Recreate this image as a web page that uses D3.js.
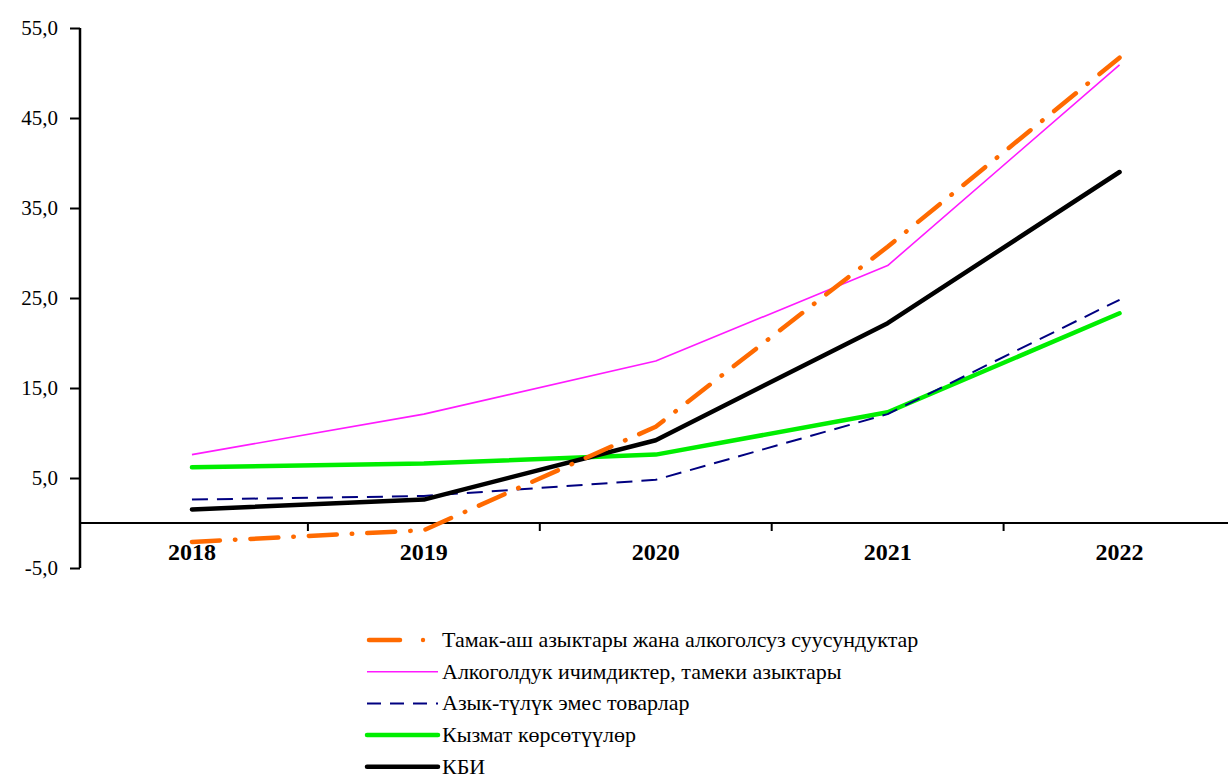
<!DOCTYPE html>
<html><head><meta charset="utf-8">
<script src="https://cdn.jsdelivr.net/npm/d3@7"></script>
<style>body{margin:0;background:#fff}svg{display:block}</style>
</head><body><svg id="c" width="1228" height="778" font-family="Liberation Serif"></svg>
<script>
const years = ["2018","2019","2020","2021","2022"];
const yTicks = [-5,5,15,25,35,45,55];
const food = [-2.1,-0.8,10.7,30.7,51.7];
const alcohol = [7.6,12.1,18.0,28.6,50.9];
const nonFood = [2.6,3.0,4.8,12.1,24.8];
const services = [6.2,6.6,7.6,12.3,23.3];
const cpi = [1.5,2.6,9.2,22.2,39.0];
const seriesNames = ["Тамак-аш азыктары жана алкоголсуз суусундуктар","Алкоголдук ичимдиктер, тамеки азыктары","Азык-түлүк эмес товарлар","Кызмат көрсөтүүлөр","КБИ"];

const FONT = "Liberation Serif";
const series = [
 {name:seriesNames[0], values:food, color:"#ff6a00", width:4.5, dash:"28,15,0.5,15", cap:"round"},
 {name:seriesNames[1], values:alcohol, color:"#ff1aff", width:1.6, dash:null, cap:"butt"},
 {name:seriesNames[2], values:nonFood, color:"#000080", width:2, dash:"16,9", cap:"butt"},
 {name:seriesNames[3], values:services, color:"#00ee00", width:4.5, dash:null, cap:"round"},
 {name:seriesNames[4], values:cpi, color:"#000000", width:4.5, dash:null, cap:"round"}
];
const svg = d3.select("#c");
const x = d3.scaleBand().domain(years).range([76,1235.5]);
const y = d3.scaleLinear().domain([-5,55]).range([568,28]);
const axisX = 80;

// y axis
const ya = svg.append("g").attr("transform",`translate(${axisX},0)`)
  .call(d3.axisLeft(y).tickValues(yTicks).tickSize(10).tickFormat(d=>d.toFixed(1).replace(".",",")));
ya.attr("font-family",null).attr("font-size",null);
ya.select(".domain").attr("stroke","#000").attr("stroke-width",2.5).attr("d",`M0,${y(55)}V${y(-5)}`);
ya.selectAll(".tick line").attr("stroke","#000").attr("stroke-width",2);
ya.selectAll(".tick text").attr("font-size",21).attr("fill","#000").attr("x",-22).attr("font-family",FONT);

// x axis at zero
const xg = svg.append("g").attr("transform",`translate(0,${y(0)})`);
xg.append("line").attr("x1",axisX).attr("x2",1228).attr("stroke","#000").attr("stroke-width",2);
const bounds = years.slice(1).map(d=>x(d));
xg.selectAll("line.t").data(bounds).join("line").attr("class","t")
  .attr("x1",d=>d).attr("x2",d=>d).attr("y1",0).attr("y2",8).attr("stroke","#000").attr("stroke-width",2);
xg.selectAll("text.yr").data(years).join("text").attr("class","yr")
  .attr("x",d=>x(d)+x.bandwidth()/2).attr("y",37).attr("text-anchor","middle").attr("font-family",FONT)
  .attr("font-size",24).attr("font-weight","bold").attr("fill","#000").text(d=>d);

// lines
const line = d3.line().x((d,i)=>x(years[i])+x.bandwidth()/2).y(d=>y(d));
const order = [3,2,1,4,0];
order.forEach(k=>{
  const s = series[k];
  svg.append("path").attr("d",line(s.values)).attr("fill","none").attr("stroke",s.color)
    .attr("stroke-width",s.width).attr("stroke-dasharray",s.dash).attr("stroke-linecap",s.cap).attr("stroke-linejoin","round");
});

// legend
const lg = svg.append("g");
series.forEach((s,i)=>{
  const yy = 640 + i*31.7;
  if(i===0){
    lg.append("line").attr("x1",369).attr("x2",400).attr("y1",yy).attr("y2",yy).attr("stroke",s.color).attr("stroke-width",s.width).attr("stroke-linecap","round");
    lg.append("circle").attr("cx",423).attr("cy",yy).attr("r",2.2).attr("fill",s.color);
  } else {
    lg.append("line").attr("x1",367).attr("x2",438).attr("y1",yy).attr("y2",yy).attr("stroke",s.color).attr("stroke-width",s.width).attr("stroke-dasharray",s.dash?"14,9":null).attr("stroke-linecap",s.cap);
  }
  lg.append("text").attr("x",442).attr("y",yy+7).attr("font-size",22).attr("font-family",FONT).attr("fill","#000").text(s.name);
});
</script></body></html>
